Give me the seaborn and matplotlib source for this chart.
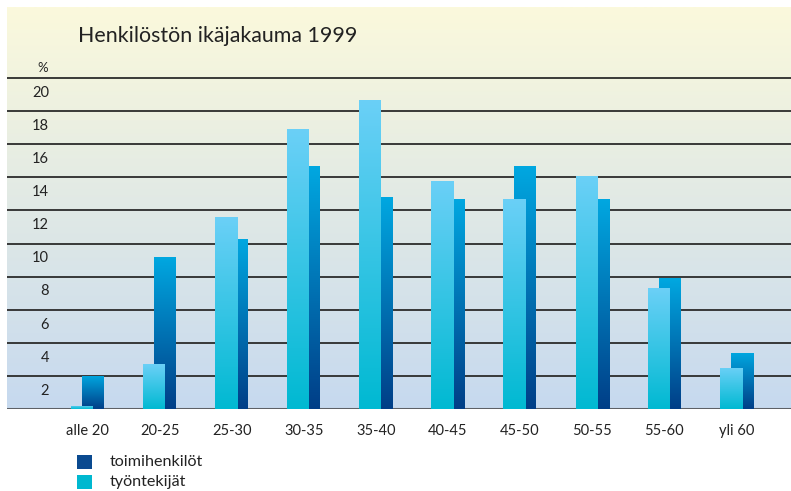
import numpy as np
import pandas as pd
import matplotlib
matplotlib.use("Agg")
import matplotlib.pyplot as plt
import matplotlib.colors as mcolors
from matplotlib.patches import Rectangle
import seaborn as sns

# Data (percent of staff per age group)
ages = ["alle 20", "20-25", "25-30", "30-35", "35-40",
        "40-45", "45-50", "50-55", "55-60", "yli 60"]
toimihenkilot = [2.0, 9.2, 10.3, 14.7, 12.8, 12.7, 14.7, 12.7, 7.9, 3.4]
tyontekijat = [0.2, 2.7, 11.6, 16.9, 18.7, 13.8, 12.7, 14.1, 7.3, 2.5]
yticks = [2, 4, 6, 8, 10, 12, 14, 16, 18, 20]

df_toimi = pd.DataFrame({"ika": ages, "osuus": toimihenkilot})
df_tyo = pd.DataFrame({"ika": ages, "osuus": tyontekijat})

sns.set_style("white")
plt.rcParams["font.family"] = ["Lato", "DejaVu Sans"]

W, H = 791, 491
fig = plt.figure(figsize=(W / 100, H / 100), dpi=100)
ax = fig.add_axes([7 / W, (H - 409) / H, 784 / W, 402 / H])

step = 72.08
x_left = -(87.5 - 7) / step
x_right = (791 - 87.5) / step
y_top = 402 / 16.55
bar_w = 22 / step
shift = 5.5 / step


def vgrad(top, bottom, n=256):
    t = np.linspace(0, 1, n)[:, None]
    a = np.array(mcolors.to_rgb(top))
    b = np.array(mcolors.to_rgb(bottom))
    return (a * (1 - t) + b * t)[:, None, :].reshape(n, 1, 3)


# background gradient
ax.imshow(vgrad("#fbf9dc", "#c6d9ef"), extent=[x_left, x_right, 0, y_top],
          aspect="auto", zorder=0, interpolation="bilinear")

# dark bars (toimihenkilöt) behind, light bars (työntekijät) in front
n0 = len(ax.patches)
sns.barplot(data=df_toimi, x="ika", y="osuus", order=ages, color="#0a4a90",
            width=bar_w, ax=ax, zorder=3)
dark = ax.patches[n0:]
n1 = len(ax.patches)
sns.barplot(data=df_tyo, x="ika", y="osuus", order=ages, color="#00b8d0",
            width=bar_w, ax=ax, zorder=4)
light = ax.patches[n1:]

for bars, off, top, bottom, z in [(dark, shift, "#00a8e1", "#003e87", 3),
                                  (light, -shift, "#6bd0f7", "#00b9d2", 4)]:
    for p in bars:
        p.set_x(p.get_x() + off)
        p.set_edgecolor("none")
        x0, w, h = p.get_x(), p.get_width(), p.get_height()
        im = ax.imshow(vgrad(top, bottom), extent=[x0, x0 + w, 0, h],
                       aspect="auto", zorder=z, interpolation="bilinear")
        im.set_clip_path(p)
        p.set_facecolor("none")

# grid lines
for v in yticks:
    ax.axhline(v, color="#2b2b2b", lw=1.3, zorder=2)
ax.axhline(0, color="#5e6166", lw=2.2, zorder=2)

ax.set_xlim(x_left, x_right)
ax.set_ylim(0, y_top)
ax.set_xlabel("")
ax.set_ylabel("")
ax.set_yticks([])
ax.set_xticks(range(len(ages)))
ax.set_xticklabels(ages, fontsize=10.5, color="#222222")
ax.tick_params(axis="x", length=0, pad=11)
for s in ax.spines.values():
    s.set_visible(False)

# y labels sit just under their grid line
ytr = ax.get_yaxis_transform()
for v in yticks:
    ax.text((49 - 7) / 784, v - 0.9, str(v), transform=ytr, ha="right",
            va="center", fontsize=10.5, color="#222222", zorder=6)

fig.text(43 / W, 1 - 68 / H, "%", ha="center", va="center", fontsize=9.5,
         color="#222222")
fig.text(78 / W, 1 - 36 / H, "Henkilöstön ikäjakauma 1999", ha="left",
         va="center", fontsize=15.4, color="#222222")

# legend
for y0, col, lab in [(455, "#0a4a90", "toimihenkilöt"),
                     (475, "#00b8d0", "työntekijät")]:
    fig.add_artist(Rectangle((77 / W, 1 - (y0 + 14) / H), 15 / W, 14 / H,
                             transform=fig.transFigure, color=col, lw=0))
    fig.text(110 / W, 1 - (y0 + 7) / H, lab, ha="left", va="center",
             fontsize=11.6, color="#222222")

fig.savefig("out.png", dpi=100)
